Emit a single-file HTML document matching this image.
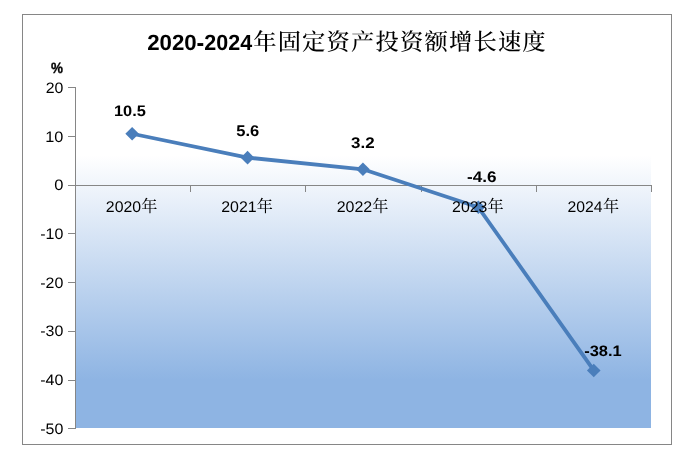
<!DOCTYPE html>
<html lang="zh-CN">
<head>
<meta charset="utf-8">
<title>2020-2024年固定资产投资额增长速度</title>
<style>
html,body{margin:0;padding:0;background:#fff;}
body{width:693px;height:454px;overflow:hidden;}
svg{display:block;}
text{font-family:"Liberation Sans","Noto Serif CJK SC",sans-serif;fill:#000;text-rendering:geometricPrecision;}
.cjk{font-family:"Liberation Sans","Noto Serif CJK SC",serif;}
.b{font-weight:bold;}
</style>
</head>
<body>
<svg width="693" height="454" viewBox="0 0 693 454">
<defs>
<linearGradient id="pg" x1="0" y1="0" x2="0" y2="1">
<stop offset="0" stop-color="#ffffff"/>
<stop offset="0.20" stop-color="#ffffff"/>
<stop offset="0.86" stop-color="#8eb4e3"/>
<stop offset="1" stop-color="#8eb4e3"/>
</linearGradient>
</defs>
<rect x="0" y="0" width="693" height="454" fill="#ffffff"/>
<rect x="22.5" y="14.5" width="649" height="430" fill="#ffffff" stroke="#868686" stroke-width="1"/>
<rect x="76" y="87" width="575" height="341" fill="url(#pg)"/>
<g stroke="#868686" stroke-width="1" fill="none" shape-rendering="crispEdges">
<line x1="75.5" y1="87" x2="75.5" y2="429"/>
<line x1="68" y1="87.5" x2="76" y2="87.5"/>
<line x1="68" y1="136.5" x2="76" y2="136.5"/>
<line x1="68" y1="185.5" x2="76" y2="185.5"/>
<line x1="68" y1="233.5" x2="76" y2="233.5"/>
<line x1="68" y1="282.5" x2="76" y2="282.5"/>
<line x1="68" y1="331.5" x2="76" y2="331.5"/>
<line x1="68" y1="380.5" x2="76" y2="380.5"/>
<line x1="68" y1="428.5" x2="76" y2="428.5"/>
<line x1="75" y1="185.5" x2="652" y2="185.5"/>
<line x1="190.5" y1="185" x2="190.5" y2="192"/>
<line x1="305.5" y1="185" x2="305.5" y2="192"/>
<line x1="421.5" y1="185" x2="421.5" y2="192"/>
<line x1="536.5" y1="185" x2="536.5" y2="192"/>
<line x1="651.5" y1="185" x2="651.5" y2="192"/>
</g>
<polyline points="132.15,133.76 247.55,157.63 362.95,169.32 478.35,207.30 593.75,370.45" fill="none" stroke="#4a7ebb" stroke-width="3.8" stroke-linejoin="round" stroke-linecap="round"/>
<polygon points="132.15,126.96 138.95,133.76 132.15,140.56 125.35,133.76" fill="#4a7ebb"/>
<polygon points="247.55,150.83 254.35,157.63 247.55,164.43 240.75,157.63" fill="#4a7ebb"/>
<polygon points="362.95,162.52 369.75,169.32 362.95,176.12 356.15,169.32" fill="#4a7ebb"/>
<polygon points="478.35,200.50 485.15,207.30 478.35,214.10 471.55,207.30" fill="#4a7ebb"/>
<polygon points="593.75,363.65 600.55,370.45 593.75,377.25 586.95,370.45" fill="#4a7ebb"/>
<text class="b" stroke="#000" stroke-width="0.35" font-size="14.93" transform="translate(51.06 72.95) scale(0.9011 1)">%</text>
<text font-size="15.21" transform="translate(45.70 92.85) scale(1.0454 1)">20</text>
<text font-size="15.21" transform="translate(45.28 141.55) scale(1.0716 1)">10</text>
<text font-size="15.21" transform="translate(54.22 190.25) scale(1.0844 1)">0</text>
<text font-size="15.21" transform="translate(40.26 238.95) scale(1.0509 1)">-10</text>
<text font-size="15.21" transform="translate(40.26 287.65) scale(1.0509 1)">-20</text>
<text font-size="15.21" transform="translate(40.26 336.35) scale(1.0509 1)">-30</text>
<text font-size="15.21" transform="translate(40.26 385.05) scale(1.0509 1)">-40</text>
<text font-size="15.21" transform="translate(40.26 433.75) scale(1.0509 1)">-50</text>
<text font-size="15.42" transform="translate(105.86 211.70) scale(1.0287 1)">2020</text>
<text class="cjk" font-size="16.79" transform="translate(141.36 212.26) scale(0.9580 1)">年</text>
<text font-size="15.42" transform="translate(221.25 211.70) scale(1.0335 1)">2021</text>
<text class="cjk" font-size="16.79" transform="translate(256.76 212.26) scale(0.9580 1)">年</text>
<text font-size="15.42" transform="translate(336.65 211.70) scale(1.0359 1)">2022</text>
<text class="cjk" font-size="16.79" transform="translate(372.16 212.26) scale(0.9580 1)">年</text>
<text font-size="15.42" transform="translate(452.05 211.70) scale(1.0311 1)">2023</text>
<text class="cjk" font-size="16.79" transform="translate(487.56 212.26) scale(0.9580 1)">年</text>
<text font-size="15.42" transform="translate(567.46 211.70) scale(1.0239 1)">2024</text>
<text class="cjk" font-size="16.79" transform="translate(602.96 212.26) scale(0.9580 1)">年</text>
<text class="b" font-size="15.21" transform="translate(113.92 116.25) scale(1.0780 1)">10.5</text>
<text class="b" font-size="15.49" transform="translate(236.30 136.35) scale(1.0668 1)">5.6</text>
<text class="b" font-size="15.38" transform="translate(351.08 148.37) scale(1.1038 1)">3.2</text>
<text class="b" font-size="15.35" transform="translate(467.10 182.35) scale(1.1138 1)">-4.6</text>
<text class="b" font-size="15.10" transform="translate(584.22 355.77) scale(1.0915 1)">-38.1</text>
<g id="chart-title">
<text class="b" font-size="21.97" transform="translate(147.18 49.78) scale(1.0127 1)">2020</text>
<text class="b" font-size="25.00" transform="translate(196.49 50.50) scale(0.9231 1)">-</text>
<text class="b" font-size="21.97" transform="translate(204.25 49.78) scale(0.9788 1)">2024</text>
<text class="cjk" font-weight="500" font-size="23.3" x="253.18" y="50.22" letter-spacing="1.174">年固定资产投资额增长速度</text>
</g>
</svg>
</body>
</html>
